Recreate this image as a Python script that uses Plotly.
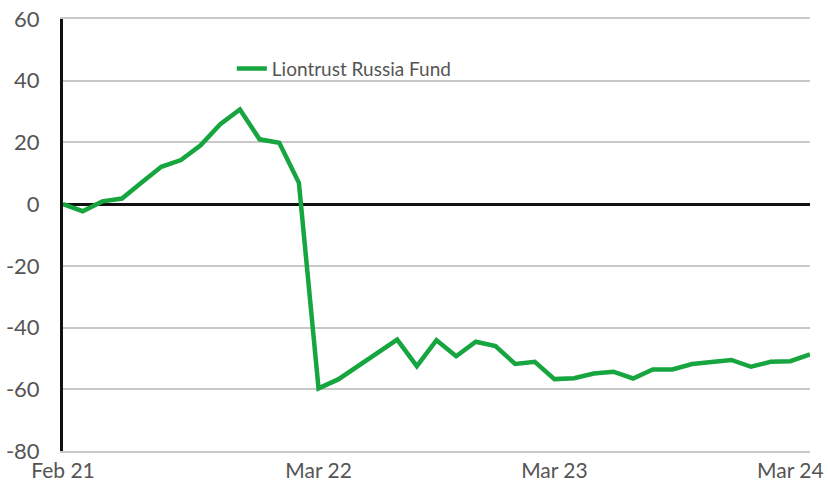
import plotly.graph_objects as go

# Data (monthly, Feb 21 -> Apr 24)
months = list(range(39))
fund_values = [0.0, -2.3, 0.9, 1.8, 7.0, 12.1, 14.3, 19.1, 25.9, 30.7,
               21.0, 19.9, 6.9, -59.7, -56.8, -52.5, -48.2, -43.9, -52.5, -44.1,
               -49.3, -44.6, -46.0, -51.8, -51.1, -56.7, -56.4, -54.9, -54.3, -56.5,
               -53.6, -53.6, -51.8, -51.2, -50.5, -52.7, -51.1, -50.9, -48.7]
tick_positions = [0, 13, 25, 37]
tick_labels = ["Feb 21", "Mar 22", "Mar 23", "Mar 24"]
y_ticks = [-80, -60, -40, -20, 0, 20, 40, 60]
y_tick_labels = ["-80", "-60", "-40", "-20", "0", "20", "40", "60"]
series_name = "Liontrust Russia Fund"

fig = go.Figure()
fig.add_trace(go.Scatter(
    x=months, y=fund_values, mode="lines", name=series_name,
    line=dict(color="#16a53f", width=4.5),
))

fig.update_layout(
    width=828, height=484,
    margin=dict(l=63, r=18, t=19, b=33),
    paper_bgcolor="white", plot_bgcolor="white",
    font=dict(family="Lato", color="#555555", size=22),
    showlegend=True,
    legend=dict(x=0.226, y=0.885, xanchor="left", yanchor="middle",
                bgcolor="rgba(0,0,0,0)", font=dict(size=19, color="#555555"),
                itemwidth=30),
)
fig.update_xaxes(
    range=[0, 38], tickmode="array", tickvals=tick_positions, ticktext=tick_labels,
    showgrid=False, zeroline=False, showline=True, mirror=True,
    linecolor="#c8c8c8", linewidth=2, ticks="", automargin=False,
    tickfont=dict(size=21),
)
fig.update_yaxes(
    range=[-80, 60], tickmode="array", tickvals=y_ticks, ticktext=y_tick_labels,
    showgrid=True, gridcolor="#c8c8c8", gridwidth=2,
    zeroline=True, zerolinecolor="#111111", zerolinewidth=3,
    showline=True, linecolor="#111111", linewidth=3,
    ticks="", ticklabelstandoff=16, tickfont=dict(size=22), automargin=False,
)

fig.write_html(
    "out.html",
    config={"displayModeBar": False},
    post_script="document.body.style.margin='0';document.body.style.padding='0';"
                "document.body.style.overflow='hidden';",
)
